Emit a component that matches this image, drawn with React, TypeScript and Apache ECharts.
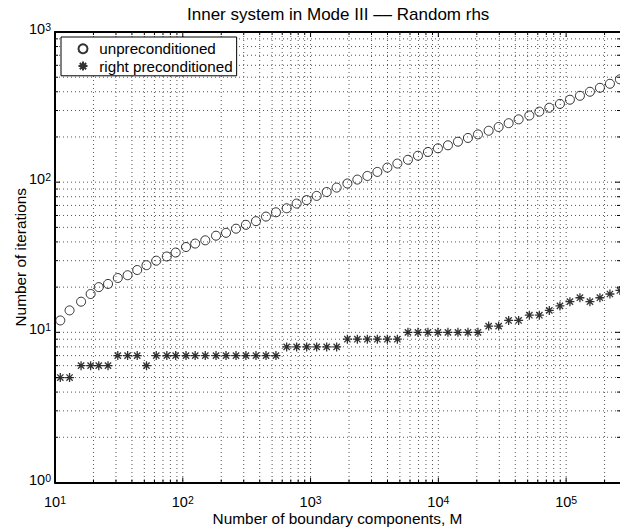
import React, { useEffect, useRef } from "react";
import * as echarts from "echarts";

// Number of boundary components M (x values)
const mValues = [
  11, 13, 16, 19, 22, 26, 31, 37, 44, 52,
  62, 75, 88, 106, 125, 150, 182, 218, 261, 312,
  374, 448, 536, 650, 778, 932, 1116, 1337, 1600, 1941,
  2324, 2782, 3332, 3990, 4778, 5783, 6925, 8291, 9929, 11890,
  14237, 17049, 20415, 24753, 29637, 35489, 42497, 51530, 61700, 73875,
  89430, 107080, 128230, 153540, 183860, 220170, 263630,
];

// Iterations, unpreconditioned (circles)
const unpreconditioned = [
  12, 14, 16, 18, 20, 21, 23, 24, 26, 28,
  30, 32, 34, 37, 39, 41, 44, 46, 49, 52,
  55, 59, 63, 67, 72, 76, 81, 86, 92, 98,
  104, 110, 117, 125, 133, 141, 150, 159, 168, 176,
  186, 197, 208, 220, 233, 247, 262, 278, 295, 313,
  332, 354, 376, 400, 425, 452, 484,
];

// Iterations, right preconditioned (stars)
const rightPreconditioned = [
  5, 5, 6, 6, 6, 6, 7, 7, 7, 6,
  7, 7, 7, 7, 7, 7, 7, 7, 7, 7,
  7, 7, 7, 8, 8, 8, 8, 8, 8, 9,
  9, 9, 9, 9, 9, 10, 10, 10, 10, 10,
  10, 10, 10, 11, 11, 12, 12, 13, 13, 14,
  15, 16, 17, 16, 17, 18, 19,
];

const X_MIN = 10;
const X_MAX = 264000;
const Y_MIN = 1;
const Y_MAX = 1000;

const FONT = "'Liberation Sans', Arial, Helvetica, sans-serif";

function logGridValues(min: number, max: number): number[] {
  const out: number[] = [];
  const p0 = Math.floor(Math.log10(min));
  const p1 = Math.ceil(Math.log10(max));
  for (let p = p0; p <= p1; p++) {
    for (let k = 1; k <= 9; k++) {
      const v = k * Math.pow(10, p);
      if (v > min * 1.0001 && v < max * 0.9999) out.push(v);
    }
  }
  return out;
}

function isPow10(v: number): boolean {
  const e = Math.log10(v);
  return Math.abs(e - Math.round(e)) < 1e-6;
}

function supLabel(v: number): string {
  const e = Math.log10(v);
  const r = Math.round(e);
  if (Math.abs(e - r) > 1e-6) return "";
  return `{b|10}{s|${r}}`;
}

const rich = {
  b: { fontSize: 14.5, fontFamily: FONT, color: "#000", lineHeight: 15, verticalAlign: "bottom" },
  s: { fontSize: 10.5, fontFamily: FONT, color: "#000", lineHeight: 11, padding: [0, 0, 12, 0], verticalAlign: "top" },
};

const ASTERISK = "path://M5,0 L5,10 M0,5 L10,5 M1.5,1.5 L8.5,8.5 M1.5,8.5 L8.5,1.5";

const GRID_STYLE = { stroke: "#555", lineWidth: 1, lineDash: [1, 3] };
const TICK_STYLE = { stroke: "#000", lineWidth: 1 };

export default function App() {
  const ref = useRef<HTMLDivElement>(null);

  useEffect(() => {
    document.body.style.margin = "0";
    if (!ref.current) return;
    const chart = echarts.init(ref.current, null, { renderer: "svg" });

    const xGridData = logGridValues(X_MIN, X_MAX).map((v) => [v, Y_MIN]);
    const yGridData = logGridValues(Y_MIN, Y_MAX).map((v) => [X_MIN, v]);

    const option: any = {
      animation: false,
      backgroundColor: "#fff",
      title: {
        text: "Inner system in Mode III –– Random rhs",
        left: 182,
        top: 1,
        textStyle: { fontFamily: FONT, fontSize: 17, fontWeight: "normal", color: "#000" },
      },
      legend: {
        orient: "vertical",
        left: 61,
        top: 37,
        z: 10,
        data: ["unpreconditioned", "right preconditioned"],
        backgroundColor: "#fff",
        borderColor: "#000",
        borderWidth: 1,
        borderRadius: 0,
        padding: [4, 4, 2, 16.5],
        itemWidth: 22.5,
        itemHeight: 9,
        itemGap: 2,
        textStyle: { fontFamily: FONT, fontSize: 15.2, color: "#000", lineHeight: 15.4 },
      },
      grid: { left: 55, right: 0, top: 32, bottom: 46.5, containLabel: false, outerBoundsMode: "none" },
      xAxis: [
        {
          type: "log",
          min: X_MIN,
          max: X_MAX,
          position: "bottom",
          name: "Number of boundary components, M",
          nameLocation: "middle",
          nameGap: 28,
          nameMoveOverlap: false,
          nameTextStyle: { fontFamily: FONT, fontSize: 15.4, color: "#000" },
          axisLine: { show: true, lineStyle: { color: "#000", width: 2 } },
          axisTick: { show: false },
          splitLine: { show: false },
          minorTick: { show: false },
          axisLabel: { margin: 12, formatter: supLabel, rich },
        },
        {
          type: "log",
          min: X_MIN,
          max: X_MAX,
          position: "top",
          axisLine: { show: true, lineStyle: { color: "#000", width: 2 } },
          axisTick: { show: false },
          splitLine: { show: false },
          axisLabel: { show: false },
        },
      ],
      yAxis: [
        {
          type: "log",
          min: Y_MIN,
          max: Y_MAX,
          name: "Number of iterations",
          nameLocation: "middle",
          nameGap: 27,
          nameMoveOverlap: false,
          nameTextStyle: { fontFamily: FONT, fontSize: 15.4, color: "#000" },
          axisLine: { show: true, lineStyle: { color: "#000", width: 2 } },
          axisTick: { show: false },
          splitLine: { show: false },
          axisLabel: { margin: 4, formatter: supLabel, rich, padding: [0, 0, 6, 0] },
        },
      ],
      series: [
        {
          type: "custom",
          name: "xgrid",
          xAxisIndex: 0,
          yAxisIndex: 0,
          silent: true,
          z: 1,
          clip: false,
          encode: { x: 0, y: 1 },
          data: xGridData,
          renderItem: (params: any, api: any) => {
            const cs = params.coordSys;
            const v = api.value(0);
            const x = api.coord([v, Y_MIN])[0];
            const tl = isPow10(v) ? 5 : 3;
            return {
              type: "group",
              children: [
                { type: "line", shape: { x1: x, y1: cs.y, x2: x, y2: cs.y + cs.height }, style: GRID_STYLE },
                { type: "line", shape: { x1: x, y1: cs.y + cs.height, x2: x, y2: cs.y + cs.height - tl }, style: TICK_STYLE },
                { type: "line", shape: { x1: x, y1: cs.y, x2: x, y2: cs.y + tl }, style: TICK_STYLE },
              ],
            };
          },
        },
        {
          type: "custom",
          name: "ygrid",
          xAxisIndex: 0,
          yAxisIndex: 0,
          silent: true,
          z: 1,
          clip: false,
          encode: { x: 0, y: 1 },
          data: yGridData,
          renderItem: (params: any, api: any) => {
            const cs = params.coordSys;
            const v = api.value(1);
            const y = api.coord([X_MIN, v])[1];
            const tl = isPow10(v) ? 5 : 3;
            return {
              type: "group",
              children: [
                { type: "line", shape: { x1: cs.x, y1: y, x2: cs.x + cs.width, y2: y }, style: GRID_STYLE },
                { type: "line", shape: { x1: cs.x, y1: y, x2: cs.x + tl, y2: y }, style: TICK_STYLE },
                { type: "line", shape: { x1: cs.x + cs.width, y1: y, x2: cs.x + cs.width - tl, y2: y }, style: TICK_STYLE },
              ],
            };
          },
        },
        {
          type: "scatter",
          name: "unpreconditioned",
          z: 3,
          symbol: "circle",
          symbolSize: 9,
          itemStyle: { color: "rgba(0,0,0,0)", borderColor: "#000", borderWidth: 1 },
          data: mValues.map((m, i) => [m, unpreconditioned[i]]),
        },
        {
          type: "scatter",
          name: "right preconditioned",
          z: 3,
          symbol: ASTERISK,
          symbolSize: 9,
          itemStyle: { color: "#000", borderColor: "#000", borderWidth: 1.3 },
          data: mValues.map((m, i) => [m, rightPreconditioned[i]]),
        },
      ],
    };

    chart.setOption(option);
    return () => chart.dispose();
  }, []);

  return <div ref={ref} style={{ width: 620, height: 529 }} />;
}
